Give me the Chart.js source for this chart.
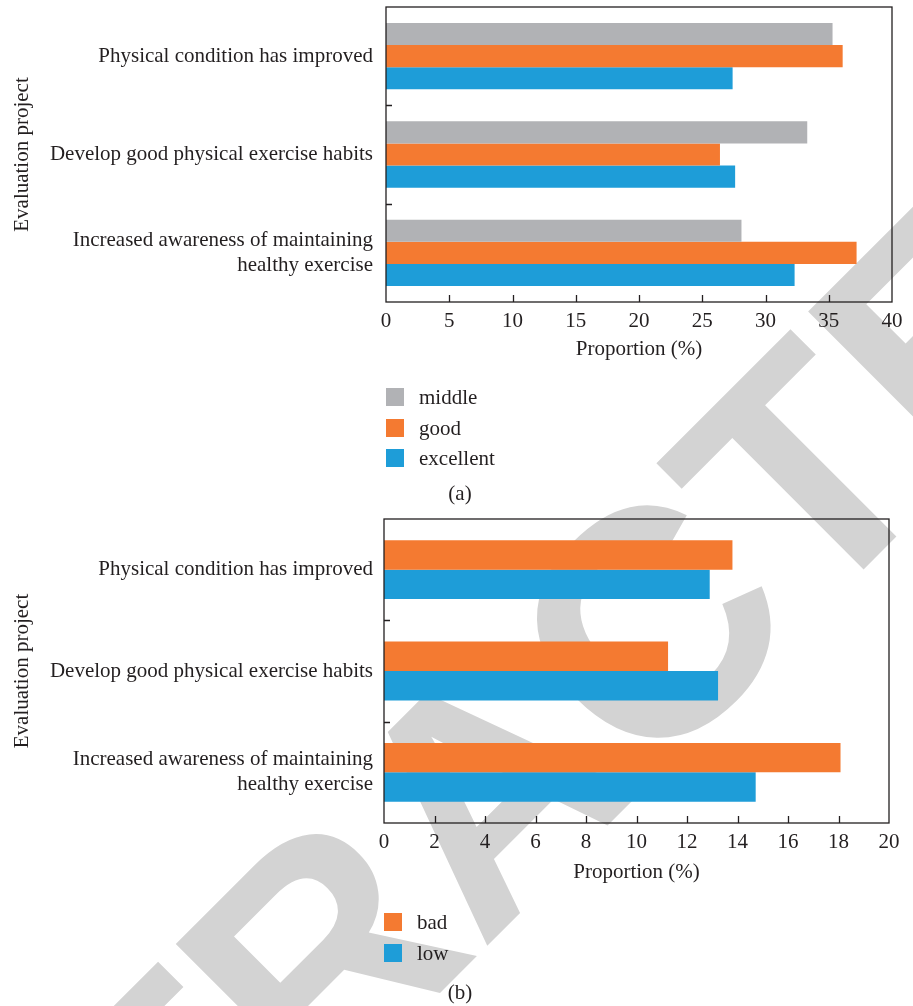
<!DOCTYPE html>
<html>
<head>
<meta charset="utf-8">
<script src="https://cdn.jsdelivr.net/npm/chart.js@4.4.0/dist/chart.umd.min.js"></script>
<style>
  html, body { margin: 0; padding: 0; background: #fff; }
  body { width: 913px; height: 1006px; position: relative; overflow: hidden;
         font-family: "Liberation Serif", "DejaVu Serif", serif; color: #231f20; }
  #stamp { position: absolute; left: 0; top: 0; z-index: 0; }
  .panel { position: absolute; left: 0; z-index: 1; }
  .legend { position: absolute; z-index: 1; font-size: 21px; }
  .legend .row { position: absolute; left: 0; display: flex; align-items: center; height: 18px; white-space: nowrap; }
  .legend .swatch { width: 18px; height: 18px; margin-right: 15px; flex: none; }
  .legend .name { line-height: 18px; }
  .caption { position: absolute; z-index: 1; font-size: 21px; transform: translateX(-50%); }
</style>
</head>
<body>
<canvas id="stamp" width="913" height="1006"></canvas>
<canvas id="chartA" class="panel" style="top:0px" width="913" height="364"></canvas>
<div id="legendA" class="legend" style="left:386px;top:388px"></div>
<div class="caption" style="left:460px;top:481px">(a)</div>
<canvas id="chartB" class="panel" style="top:505px" width="913" height="380"></canvas>
<div id="legendB" class="legend" style="left:384px;top:913px"></div>
<div class="caption" style="left:460px;top:980px">(b)</div>

<script>
// Evaluation items shared by both panels (the last one wraps onto two lines)
const categories = [
  "Physical condition has improved",
  "Develop good physical exercise habits",
  ["Increased awareness of maintaining", "healthy exercise"]
];

// Panel (a): positive ratings, proportion in %
const seriesA = ["middle", "good", "excellent"];
const middleA = [35.3, 33.3, 28.1];
const goodA = [36.1, 26.4, 37.2];
const excellentA = [27.4, 27.6, 32.3];
const ticksA = [0, 5, 10, 15, 20, 25, 30, 35, 40];

// Panel (b): negative ratings, proportion in %
const seriesB = ["bad", "low"];
const badB = [13.8, 11.25, 18.08];
const lowB = [12.9, 13.23, 14.72];
const ticksB = [0, 2, 4, 6, 8, 10, 12, 14, 16, 18, 20];

const yTitle = "Evaluation project";
const xTitle = "Proportion (%)";

const COLORS = { middle: "#b1b2b5", good: "#f47a31", excellent: "#1e9dd8", bad: "#f47a31", low: "#1e9dd8" };
const INK = "#231f20";

Chart.defaults.font.family = '"Liberation Serif", "DejaVu Serif", serif';
Chart.defaults.font.size = 21;
Chart.defaults.color = INK;

// Watermark stamped across the page, underneath both panels
(function drawStamp() {
  const c = document.getElementById("stamp").getContext("2d");
  c.font = 'bold 322px "Liberation Sans", Arial, sans-serif';
  const word = "RETRACTED";
  const lead = c.measureText("RETRAC").width + c.measureText("T").width / 2;
  c.save();
  c.translate(880, 553);
  c.rotate(-Math.PI / 4);
  c.fillStyle = "#d3d3d3";
  c.textBaseline = "alphabetic";
  c.fillText(word, -lead, 0);
  c.restore();
})();

// Closed frame around the plot plus short inward tick marks
const framePlugin = {
  id: "frameTicks",
  afterDraw(chart) {
    const { ctx, chartArea: a, scales } = chart;
    const xs = scales.x, ys = scales.y;
    ctx.save();
    ctx.strokeStyle = INK;
    ctx.lineWidth = 1.3;
    ctx.strokeRect(a.left, a.top, a.right - a.left, a.bottom - a.top);
    ctx.beginPath();
    xs.ticks.forEach((t, i) => {
      if (i === 0 || i === xs.ticks.length - 1) return;
      const px = Math.round(xs.getPixelForValue(t.value)) + 0.5;
      ctx.moveTo(px, a.bottom);
      ctx.lineTo(px, a.bottom - 7);
    });
    const n = ys.getLabels().length;
    for (let i = 1; i < n; i++) {
      const py = Math.round(ys.getPixelForValue(i - 0.5)) + 0.5;
      ctx.moveTo(a.left, py);
      ctx.lineTo(a.left + 6, py);
    }
    ctx.stroke();
    ctx.restore();
  }
};

function buildChart(id, names, values, tickList, geo) {
  const datasets = names.map((name, i) => ({
    label: name,
    data: values[i],
    backgroundColor: COLORS[name],
    borderWidth: 0,
    barPercentage: 1.0,
    categoryPercentage: geo.group
  }));
  return new Chart(document.getElementById(id), {
    type: "bar",
    data: { labels: categories, datasets },
    plugins: [framePlugin],
    options: {
      indexAxis: "y",
      responsive: false,
      animation: false,
      devicePixelRatio: 1,
      layout: { padding: { top: geo.top, right: geo.right, left: 0, bottom: 0 } },
      plugins: { legend: { display: false }, tooltip: { enabled: false } },
      scales: {
        x: {
          type: "linear",
          min: tickList[0],
          max: tickList[tickList.length - 1],
          afterBuildTicks(scale) { scale.ticks = tickList.map(v => ({ value: v })); },
          grid: { display: false, drawTicks: false },
          border: { display: false },
          ticks: { padding: 7, maxRotation: 0, autoSkip: false },
          title: { display: true, text: xTitle, padding: { top: 0, bottom: geo.titleGap } },
          afterFit(scale) { scale.height = 62; }
        },
        y: {
          grid: { display: false, drawTicks: false },
          border: { display: false },
          ticks: { padding: geo.labelGap, autoSkip: false },
          title: { display: true, text: yTitle, padding: { top: 10, bottom: 0 } },
          afterFit(scale) {
            scale.width = geo.left;
            scale.paddingTop = 0;
            scale.paddingBottom = 0;
          }
        }
      }
    }
  });
}

function buildLegend(id, names, pitch) {
  const box = document.getElementById(id);
  names.forEach((name, i) => {
    const row = document.createElement("div");
    row.className = "row";
    row.style.top = (i * pitch) + "px";
    const sw = document.createElement("span");
    sw.className = "swatch";
    sw.style.background = COLORS[name];
    const tx = document.createElement("span");
    tx.className = "name";
    tx.textContent = name;
    row.appendChild(sw);
    row.appendChild(tx);
    box.appendChild(row);
  });
}

buildChart("chartA", seriesA, [middleA, goodA, excellentA], ticksA,
  { top: 7, right: 21, left: 386, group: 0.675, labelGap: 13, titleGap: 2 });
buildChart("chartB", seriesB, [badB, lowB], ticksB,
  { top: 14, right: 24, left: 384, group: 0.58, labelGap: 11, titleGap: 0 });

buildLegend("legendA", seriesA, 30.5);
buildLegend("legendB", seriesB, 31.3);
</script>
</body>
</html>
